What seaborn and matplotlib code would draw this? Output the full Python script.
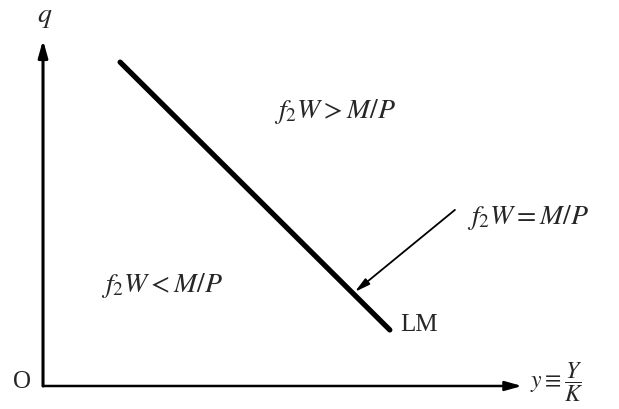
import matplotlib
matplotlib.use("Agg")
import matplotlib.pyplot as plt
import seaborn as sns
import pandas as pd

# ---- data (chart units: origin = (0, 0), axis ends at 10) ----
lm_x = [1.61, 7.24]
lm_y = [9.36, 1.62]
arrow_start = (8.60, 5.09)
arrow_tip = (6.51, 2.72)
axis_end = 10

labels = {
    "above": (r"$f_2W > M/P$", 6.10, 7.92),
    "below": (r"$f_2W < M/P$", 2.48, 2.89),
    "equal": (r"$f_2W = M/P$", 8.85, 4.88),
}

sns.set_style("white")
plt.rcParams["font.family"] = ["Liberation Serif", "DejaVu Serif"]
plt.rcParams["mathtext.fontset"] = "stix"

fig = plt.figure(figsize=(6.19, 4.09), dpi=100)
ax = fig.add_axes([0, 0, 1, 1])
ax.set_xlim(-0.898, 12.025)
ax.set_ylim(-0.665, 11.156)
ax.axis("off")

# axes with arrows
ax.annotate("", xy=(axis_end, 0), xytext=(0, 0),
            arrowprops=dict(arrowstyle="-|>,head_length=1.0,head_width=0.28",
                            color="black", lw=1.8, shrinkA=0, shrinkB=0))
ax.annotate("", xy=(0, axis_end), xytext=(0, 0),
            arrowprops=dict(arrowstyle="-|>,head_length=1.0,head_width=0.28",
                            color="black", lw=2.2, shrinkA=0, shrinkB=0))

# LM curve
df = pd.DataFrame({"x": lm_x, "y": lm_y})
sns.lineplot(data=df, x="x", y="y", ax=ax, color="black", linewidth=3.8,
             solid_capstyle="round")
ax.axis("off")

# pointer arrow
ax.annotate("", xy=arrow_tip, xytext=arrow_start,
            arrowprops=dict(arrowstyle="-|>,head_length=0.9,head_width=0.22",
                            color="black", lw=1.3, shrinkA=0, shrinkB=0))

fs = 20
t, x, y = labels["above"]
ax.text(x, y, t, fontsize=fs, ha="center", va="center")
t, x, y = labels["below"]
ax.text(x, y, t, fontsize=fs, ha="center", va="center")
t, x, y = labels["equal"]
ax.text(x, y, t, fontsize=fs, ha="left", va="center")

ax.text(7.45, 1.76, "LM", fontsize=18, ha="left", va="center")
ax.text(0.04, 10.64, r"$q$", fontsize=20, ha="center", va="center")
ax.text(-0.44, 0.12, "O", fontsize=18, ha="center", va="center")
ax.text(10.17, 0.12, r"$y \equiv \dfrac{Y}{K}$", fontsize=17, ha="left", va="center")

fig.savefig("out.png", dpi=100)
